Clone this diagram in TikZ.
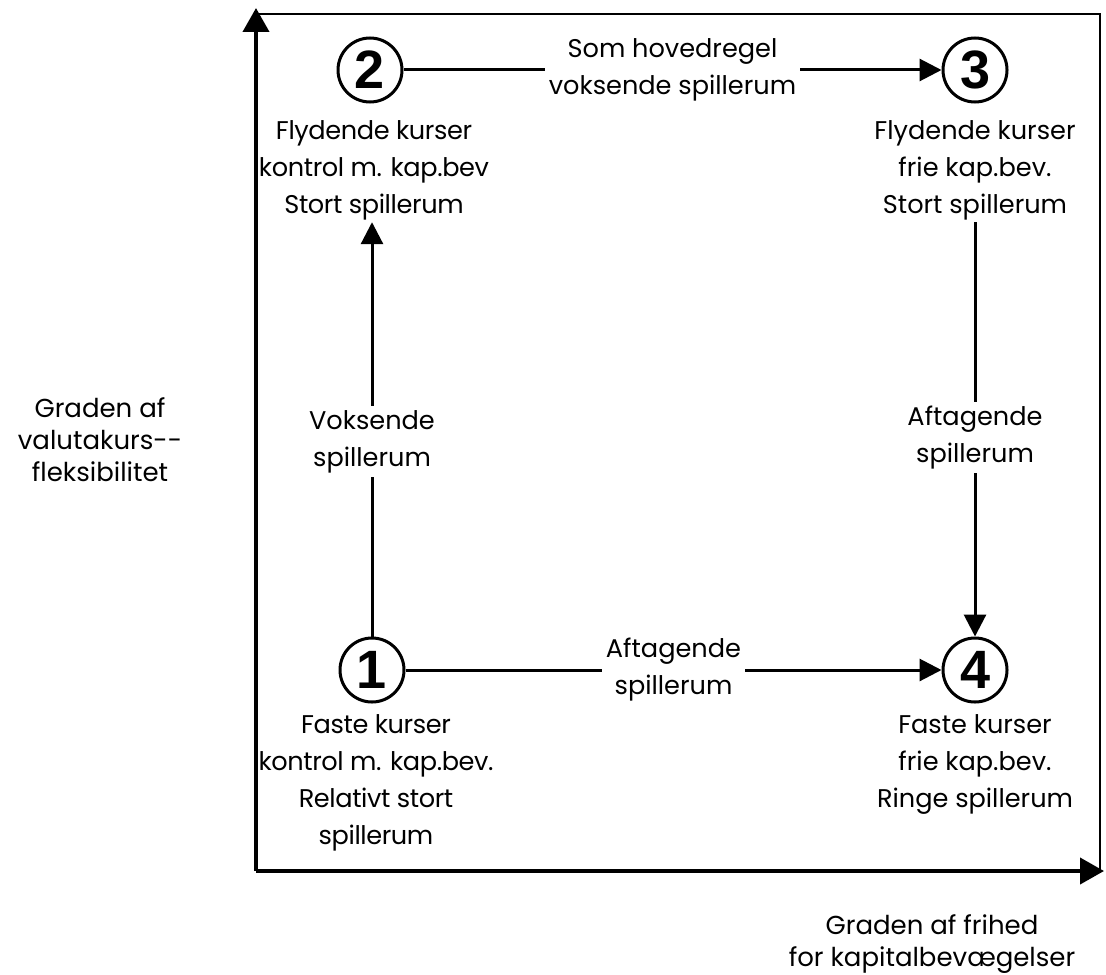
\documentclass[tikz,border=0pt]{standalone}
\usepackage{fontspec}
\setmainfont{Poppins}
\newfontfamily\numfont{Liberation Sans}
\usetikzlibrary{arrows.meta,positioning}
\begin{document}
\begin{tikzpicture}[x=0.5pt,y=-0.5pt,
  numc/.style={circle,draw,line width=1.5pt,minimum size=32pt,inner sep=0pt,font=\numfont\bfseries\fontsize{27}{27}\selectfont},
  txt/.style={align=center,font=\fontsize{12.8}{18.5}\selectfont,inner sep=1pt},
  tight/.style={font=\fontsize{12.8}{18.5}\selectfont\addfontfeatures{LetterSpace=-1.5}},
  lbl/.style={txt,fill=white,inner sep=2pt},
  conn/.style={line width=1.5pt,-{Triangle[length=11pt,width=11pt]}},
  axis/.style={line width=2pt,-{Triangle[length=12pt,width=13pt]}},
  frame/.style={line width=1.2pt}]
\useasboundingbox (0,0) rectangle (1106,974);
\coordinate (O) at (256,871);
\coordinate (ytip) at (256,8);
\coordinate (xtip) at (1104,871);
\coordinate (TL) at (256,14);
\coordinate (TR) at (1100,14);
\coordinate (BR) at (1100,871);
\draw[frame] (TL) -- (TR) -- (BR);
\draw[axis] (O) -- (ytip);
\draw[axis] (O) -- (xtip);

\node[numc] (c2) at (370,70) {2};
\node[numc] (c3) at (975,70) {3};
\node[numc] (c1) at (372,670) {1};
\node[numc] (c4) at (975,670) {4};

\node[txt,tight] (t2) at (374,170) {Flydende kurser\\kontrol m. kap.bev\\Stort spillerum};
\node[txt] (t3) at (975,170) {Flydende kurser\\frie kap.bev.\\Stort spillerum};
\node[txt,tight] (t1) at (376,783) {Faste kurser\\kontrol m. kap.bev.\\Relativt stort\\spillerum};
\node[txt] (t4) at (975,764) {Faste kurser\\frie kap.bev.\\Ringe spillerum};

\draw[conn] (c2) -- node[lbl]{Som hovedregel\\voksende spillerum} (c3);
\draw[conn] (c1) -- node[lbl]{Aftagende\\spillerum} (c4);
\draw[conn] (c1) -- node[lbl,pos=0.47]{Voksende\\spillerum} (c1 |- t2.south);
\draw[conn] (c3 |- t3.south) -- node[lbl,pos=0.52]{Aftagende\\spillerum} (c4);

\node[txt,font=\fontsize{13}{16}\selectfont] (ylab) at (100,440) {Graden af\\valutakurs-{}-\\fleksibilitet};
\node[txt,font=\fontsize{13}{16}\selectfont] (xlab) at (932,944) {Graden af frihed\\for kapitalbevægelser};
\end{tikzpicture}
\end{document}
